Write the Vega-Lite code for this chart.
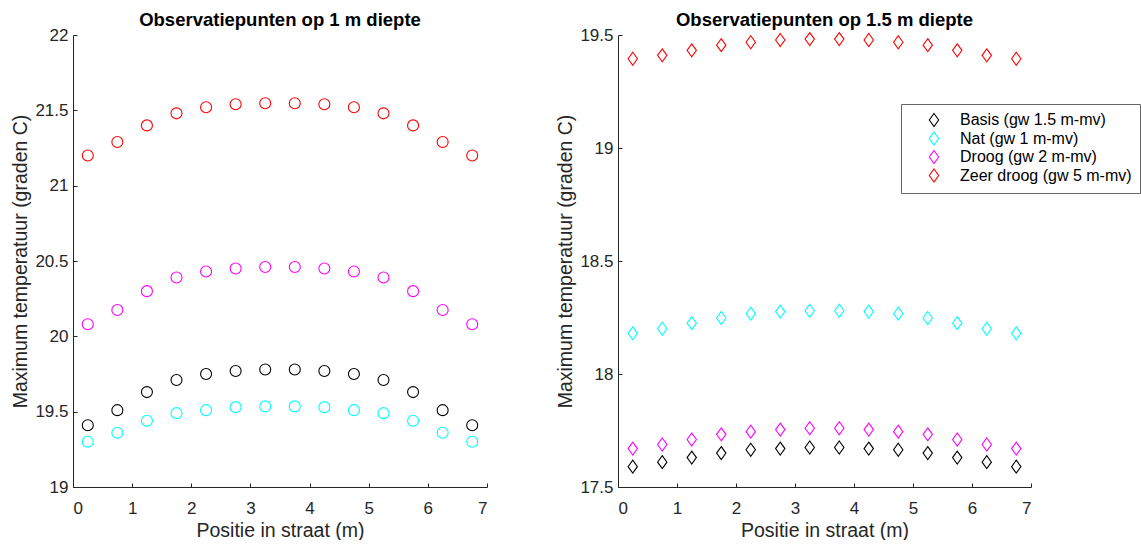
{
  "$schema": "https://vega.github.io/schema/vega-lite/v6.json",
  "padding": {"left": 10, "top": 10, "right": 0, "bottom": 0},
  "background": "white",
  "config": {
    "font": "Liberation Sans",
    "view": {"stroke": null},
    "axis": {
      "grid": false,
      "domainColor": "#262626",
      "tickColor": "#262626",
      "labelColor": "#262626",
      "titleColor": "#262626",
      "labelFontSize": 17,
      "titleFontSize": 19.5,
      "titleFontWeight": "normal",
      "tickSize": -4,
      "labelPadding": 9,
      "titlePadding": 4,
      "domainWidth": 1
    },
    "title": {"fontSize": 18.5, "fontWeight": "bold", "color": "#000000", "offset": -3},
    "concat": {"spacing": 67}
  },
  "datasets": {
    "d1m": [
      {"positie": 0.25, "temp": 19.41, "scenario": "Basis (gw 1.5 m-mv)"},
      {"positie": 0.75, "temp": 19.51, "scenario": "Basis (gw 1.5 m-mv)"},
      {"positie": 1.25, "temp": 19.63, "scenario": "Basis (gw 1.5 m-mv)"},
      {"positie": 1.75, "temp": 19.71, "scenario": "Basis (gw 1.5 m-mv)"},
      {"positie": 2.25, "temp": 19.75, "scenario": "Basis (gw 1.5 m-mv)"},
      {"positie": 2.75, "temp": 19.77, "scenario": "Basis (gw 1.5 m-mv)"},
      {"positie": 3.25, "temp": 19.78, "scenario": "Basis (gw 1.5 m-mv)"},
      {"positie": 3.75, "temp": 19.78, "scenario": "Basis (gw 1.5 m-mv)"},
      {"positie": 4.25, "temp": 19.77, "scenario": "Basis (gw 1.5 m-mv)"},
      {"positie": 4.75, "temp": 19.75, "scenario": "Basis (gw 1.5 m-mv)"},
      {"positie": 5.25, "temp": 19.71, "scenario": "Basis (gw 1.5 m-mv)"},
      {"positie": 5.75, "temp": 19.63, "scenario": "Basis (gw 1.5 m-mv)"},
      {"positie": 6.25, "temp": 19.51, "scenario": "Basis (gw 1.5 m-mv)"},
      {"positie": 6.75, "temp": 19.41, "scenario": "Basis (gw 1.5 m-mv)"},
      {"positie": 0.25, "temp": 19.30, "scenario": "Nat (gw 1 m-mv)"},
      {"positie": 0.75, "temp": 19.36, "scenario": "Nat (gw 1 m-mv)"},
      {"positie": 1.25, "temp": 19.44, "scenario": "Nat (gw 1 m-mv)"},
      {"positie": 1.75, "temp": 19.49, "scenario": "Nat (gw 1 m-mv)"},
      {"positie": 2.25, "temp": 19.51, "scenario": "Nat (gw 1 m-mv)"},
      {"positie": 2.75, "temp": 19.53, "scenario": "Nat (gw 1 m-mv)"},
      {"positie": 3.25, "temp": 19.535, "scenario": "Nat (gw 1 m-mv)"},
      {"positie": 3.75, "temp": 19.535, "scenario": "Nat (gw 1 m-mv)"},
      {"positie": 4.25, "temp": 19.53, "scenario": "Nat (gw 1 m-mv)"},
      {"positie": 4.75, "temp": 19.51, "scenario": "Nat (gw 1 m-mv)"},
      {"positie": 5.25, "temp": 19.49, "scenario": "Nat (gw 1 m-mv)"},
      {"positie": 5.75, "temp": 19.44, "scenario": "Nat (gw 1 m-mv)"},
      {"positie": 6.25, "temp": 19.36, "scenario": "Nat (gw 1 m-mv)"},
      {"positie": 6.75, "temp": 19.30, "scenario": "Nat (gw 1 m-mv)"},
      {"positie": 0.25, "temp": 20.08, "scenario": "Droog (gw 2 m-mv)"},
      {"positie": 0.75, "temp": 20.175, "scenario": "Droog (gw 2 m-mv)"},
      {"positie": 1.25, "temp": 20.30, "scenario": "Droog (gw 2 m-mv)"},
      {"positie": 1.75, "temp": 20.39, "scenario": "Droog (gw 2 m-mv)"},
      {"positie": 2.25, "temp": 20.43, "scenario": "Droog (gw 2 m-mv)"},
      {"positie": 2.75, "temp": 20.45, "scenario": "Droog (gw 2 m-mv)"},
      {"positie": 3.25, "temp": 20.46, "scenario": "Droog (gw 2 m-mv)"},
      {"positie": 3.75, "temp": 20.46, "scenario": "Droog (gw 2 m-mv)"},
      {"positie": 4.25, "temp": 20.45, "scenario": "Droog (gw 2 m-mv)"},
      {"positie": 4.75, "temp": 20.43, "scenario": "Droog (gw 2 m-mv)"},
      {"positie": 5.25, "temp": 20.39, "scenario": "Droog (gw 2 m-mv)"},
      {"positie": 5.75, "temp": 20.30, "scenario": "Droog (gw 2 m-mv)"},
      {"positie": 6.25, "temp": 20.175, "scenario": "Droog (gw 2 m-mv)"},
      {"positie": 6.75, "temp": 20.08, "scenario": "Droog (gw 2 m-mv)"},
      {"positie": 0.25, "temp": 21.20, "scenario": "Zeer droog (gw 5 m-mv)"},
      {"positie": 0.75, "temp": 21.29, "scenario": "Zeer droog (gw 5 m-mv)"},
      {"positie": 1.25, "temp": 21.40, "scenario": "Zeer droog (gw 5 m-mv)"},
      {"positie": 1.75, "temp": 21.48, "scenario": "Zeer droog (gw 5 m-mv)"},
      {"positie": 2.25, "temp": 21.52, "scenario": "Zeer droog (gw 5 m-mv)"},
      {"positie": 2.75, "temp": 21.54, "scenario": "Zeer droog (gw 5 m-mv)"},
      {"positie": 3.25, "temp": 21.547, "scenario": "Zeer droog (gw 5 m-mv)"},
      {"positie": 3.75, "temp": 21.547, "scenario": "Zeer droog (gw 5 m-mv)"},
      {"positie": 4.25, "temp": 21.54, "scenario": "Zeer droog (gw 5 m-mv)"},
      {"positie": 4.75, "temp": 21.52, "scenario": "Zeer droog (gw 5 m-mv)"},
      {"positie": 5.25, "temp": 21.48, "scenario": "Zeer droog (gw 5 m-mv)"},
      {"positie": 5.75, "temp": 21.40, "scenario": "Zeer droog (gw 5 m-mv)"},
      {"positie": 6.25, "temp": 21.29, "scenario": "Zeer droog (gw 5 m-mv)"},
      {"positie": 6.75, "temp": 21.20, "scenario": "Zeer droog (gw 5 m-mv)"}
    ],
    "d15m": [
      {"positie": 0.25, "temp": 17.59, "scenario": "Basis (gw 1.5 m-mv)"},
      {"positie": 0.75, "temp": 17.61, "scenario": "Basis (gw 1.5 m-mv)"},
      {"positie": 1.25, "temp": 17.63, "scenario": "Basis (gw 1.5 m-mv)"},
      {"positie": 1.75, "temp": 17.65, "scenario": "Basis (gw 1.5 m-mv)"},
      {"positie": 2.25, "temp": 17.665, "scenario": "Basis (gw 1.5 m-mv)"},
      {"positie": 2.75, "temp": 17.67, "scenario": "Basis (gw 1.5 m-mv)"},
      {"positie": 3.25, "temp": 17.675, "scenario": "Basis (gw 1.5 m-mv)"},
      {"positie": 3.75, "temp": 17.675, "scenario": "Basis (gw 1.5 m-mv)"},
      {"positie": 4.25, "temp": 17.67, "scenario": "Basis (gw 1.5 m-mv)"},
      {"positie": 4.75, "temp": 17.665, "scenario": "Basis (gw 1.5 m-mv)"},
      {"positie": 5.25, "temp": 17.65, "scenario": "Basis (gw 1.5 m-mv)"},
      {"positie": 5.75, "temp": 17.63, "scenario": "Basis (gw 1.5 m-mv)"},
      {"positie": 6.25, "temp": 17.61, "scenario": "Basis (gw 1.5 m-mv)"},
      {"positie": 6.75, "temp": 17.59, "scenario": "Basis (gw 1.5 m-mv)"},
      {"positie": 0.25, "temp": 18.18, "scenario": "Nat (gw 1 m-mv)"},
      {"positie": 0.75, "temp": 18.20, "scenario": "Nat (gw 1 m-mv)"},
      {"positie": 1.25, "temp": 18.225, "scenario": "Nat (gw 1 m-mv)"},
      {"positie": 1.75, "temp": 18.248, "scenario": "Nat (gw 1 m-mv)"},
      {"positie": 2.25, "temp": 18.267, "scenario": "Nat (gw 1 m-mv)"},
      {"positie": 2.75, "temp": 18.276, "scenario": "Nat (gw 1 m-mv)"},
      {"positie": 3.25, "temp": 18.28, "scenario": "Nat (gw 1 m-mv)"},
      {"positie": 3.75, "temp": 18.28, "scenario": "Nat (gw 1 m-mv)"},
      {"positie": 4.25, "temp": 18.276, "scenario": "Nat (gw 1 m-mv)"},
      {"positie": 4.75, "temp": 18.267, "scenario": "Nat (gw 1 m-mv)"},
      {"positie": 5.25, "temp": 18.248, "scenario": "Nat (gw 1 m-mv)"},
      {"positie": 5.75, "temp": 18.225, "scenario": "Nat (gw 1 m-mv)"},
      {"positie": 6.25, "temp": 18.20, "scenario": "Nat (gw 1 m-mv)"},
      {"positie": 6.75, "temp": 18.18, "scenario": "Nat (gw 1 m-mv)"},
      {"positie": 0.25, "temp": 17.67, "scenario": "Droog (gw 2 m-mv)"},
      {"positie": 0.75, "temp": 17.688, "scenario": "Droog (gw 2 m-mv)"},
      {"positie": 1.25, "temp": 17.71, "scenario": "Droog (gw 2 m-mv)"},
      {"positie": 1.75, "temp": 17.733, "scenario": "Droog (gw 2 m-mv)"},
      {"positie": 2.25, "temp": 17.745, "scenario": "Droog (gw 2 m-mv)"},
      {"positie": 2.75, "temp": 17.754, "scenario": "Droog (gw 2 m-mv)"},
      {"positie": 3.25, "temp": 17.76, "scenario": "Droog (gw 2 m-mv)"},
      {"positie": 3.75, "temp": 17.76, "scenario": "Droog (gw 2 m-mv)"},
      {"positie": 4.25, "temp": 17.754, "scenario": "Droog (gw 2 m-mv)"},
      {"positie": 4.75, "temp": 17.745, "scenario": "Droog (gw 2 m-mv)"},
      {"positie": 5.25, "temp": 17.733, "scenario": "Droog (gw 2 m-mv)"},
      {"positie": 5.75, "temp": 17.71, "scenario": "Droog (gw 2 m-mv)"},
      {"positie": 6.25, "temp": 17.688, "scenario": "Droog (gw 2 m-mv)"},
      {"positie": 6.75, "temp": 17.67, "scenario": "Droog (gw 2 m-mv)"},
      {"positie": 0.25, "temp": 19.395, "scenario": "Zeer droog (gw 5 m-mv)"},
      {"positie": 0.75, "temp": 19.41, "scenario": "Zeer droog (gw 5 m-mv)"},
      {"positie": 1.25, "temp": 19.432, "scenario": "Zeer droog (gw 5 m-mv)"},
      {"positie": 1.75, "temp": 19.455, "scenario": "Zeer droog (gw 5 m-mv)"},
      {"positie": 2.25, "temp": 19.468, "scenario": "Zeer droog (gw 5 m-mv)"},
      {"positie": 2.75, "temp": 19.478, "scenario": "Zeer droog (gw 5 m-mv)"},
      {"positie": 3.25, "temp": 19.482, "scenario": "Zeer droog (gw 5 m-mv)"},
      {"positie": 3.75, "temp": 19.482, "scenario": "Zeer droog (gw 5 m-mv)"},
      {"positie": 4.25, "temp": 19.478, "scenario": "Zeer droog (gw 5 m-mv)"},
      {"positie": 4.75, "temp": 19.468, "scenario": "Zeer droog (gw 5 m-mv)"},
      {"positie": 5.25, "temp": 19.455, "scenario": "Zeer droog (gw 5 m-mv)"},
      {"positie": 5.75, "temp": 19.432, "scenario": "Zeer droog (gw 5 m-mv)"},
      {"positie": 6.25, "temp": 19.41, "scenario": "Zeer droog (gw 5 m-mv)"},
      {"positie": 6.75, "temp": 19.395, "scenario": "Zeer droog (gw 5 m-mv)"}
    ]
  },
  "resolve": {"scale": {"color": "independent", "shape": "independent"}, "legend": {"color": "independent"}},
  "hconcat": [
    {
      "width": 414,
      "height": 452,
      "title": "Observatiepunten op 1 m diepte",
      "data": {"name": "d1m"},
      "mark": {"type": "point", "shape": "circle", "filled": false, "size": 121, "strokeWidth": 1.1, "opacity": 1},
      "encoding": {
        "x": {"field": "positie", "type": "quantitative",
              "scale": {"domain": [0, 7], "nice": false, "zero": false},
              "axis": {"title": "Positie in straat (m)", "values": [0, 1, 2, 3, 4, 5, 6, 7], "labelPadding": 17, "titlePadding": 5}},
        "y": {"field": "temp", "type": "quantitative",
              "scale": {"domain": [19, 22], "nice": false, "zero": false},
              "axis": {"title": "Maximum temperatuur (graden C)", "values": [19, 19.5, 20, 20.5, 21, 21.5, 22], "format": ".1~f"}},
        "color": {"field": "scenario", "type": "nominal",
                  "scale": {"domain": ["Basis (gw 1.5 m-mv)", "Nat (gw 1 m-mv)", "Droog (gw 2 m-mv)", "Zeer droog (gw 5 m-mv)"],
                            "range": ["#000000", "#00FFFF", "#FF00FF", "#FF0000"]},
                  "legend": null}
      }
    },
    {
      "width": 413,
      "height": 452,
      "title": "Observatiepunten op 1.5 m diepte",
      "data": {"name": "d15m"},
      "mark": {"type": "point", "shape": "M0,-1L0.72,0L0,1L-0.72,0Z", "filled": false, "size": 169, "strokeWidth": 1.1, "opacity": 1},
      "encoding": {
        "x": {"field": "positie", "type": "quantitative",
              "scale": {"domain": [0, 7], "nice": false, "zero": false},
              "axis": {"title": "Positie in straat (m)", "values": [0, 1, 2, 3, 4, 5, 6, 7], "labelPadding": 17, "titlePadding": 5}},
        "y": {"field": "temp", "type": "quantitative",
              "scale": {"domain": [17.5, 19.5], "nice": false, "zero": false},
              "axis": {"title": "Maximum temperatuur (graden C)", "values": [17.5, 18, 18.5, 19, 19.5], "format": ".1~f"}},
        "color": {"field": "scenario", "type": "nominal",
                  "scale": {"domain": ["Basis (gw 1.5 m-mv)", "Nat (gw 1 m-mv)", "Droog (gw 2 m-mv)", "Zeer droog (gw 5 m-mv)"],
                            "range": ["#000000", "#00FFFF", "#FF00FF", "#FF0000"]},
                  "legend": {
                    "title": null,
                    "orient": "none",
                    "legendX": 283,
                    "legendY": 69,
                    "padding": 8,
                    "strokeColor": "#666666",
                    "fillColor": "#ffffff",
                    "symbolType": "M0,-1L0.72,0L0,1L-0.72,0Z",
                    "symbolSize": 169,
                    "symbolStrokeWidth": 1.1,
                    "symbolFillColor": "transparent",
                    "symbolOffset": 17,
                    "labelOffset": 18,
                    "labelFontSize": 16,
                    "labelColor": "#000000",
                    "labelLimit": 300,
                    "rowPadding": 0.5
                  }}
      }
    }
  ]
}
